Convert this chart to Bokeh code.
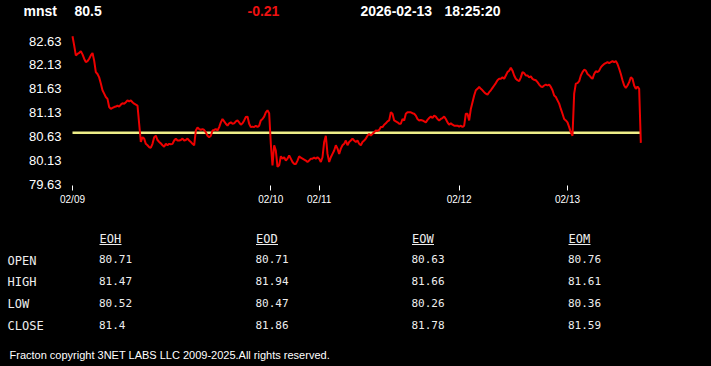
from bokeh.plotting import figure
from bokeh.layouts import column
from bokeh.models import Range1d, FixedTicker, NumeralTickFormatter, ColumnDataSource
from bokeh.core.properties import value
from bokeh.embed import file_html
from bokeh.resources import INLINE

# ---------------- data ----------------
symbol = "mnst"
last_price = "80.5"
change = "-0.21"
date_str = "2026-02-13"
time_str = "18:25:20"
prev_close = 80.71

prices_a = [
    82.73, 82.54, 82.33, 82.36, 82.38, 82.42, 82.35, 82.26, 82.19, 82.21,
    82.26, 82.33, 82.38, 82.22, 81.98, 81.94, 81.87, 81.74, 81.60, 81.53,
    81.46, 81.42, 81.25, 81.21, 81.23, 81.25, 81.26, 81.28, 81.26, 81.30,
    81.33, 81.32, 81.35, 81.39, 81.37, 81.39, 81.35, 81.32, 81.30, 81.28,
    80.90, 80.52, 80.62, 80.59, 80.48, 80.45, 80.41, 80.40, 80.48, 80.62,
    80.65, 80.56, 80.52, 80.49, 80.45, 80.42, 80.48, 80.45, 80.48, 80.47,
    80.48, 80.55, 80.59, 80.55, 80.55, 80.56, 80.59, 80.55, 80.56, 80.59,
    80.55, 80.52, 80.48, 80.45, 80.76, 80.82, 80.79, 80.77, 80.79, 80.77,
    80.72, 80.65, 80.62, 80.65, 80.76, 80.77, 80.79, 80.76, 80.83, 80.93,
    81.00, 80.95, 80.90, 80.86, 80.91, 80.93, 80.90, 80.91, 80.95, 80.97,
    80.93, 80.88, 80.91, 80.97, 81.04, 81.05, 80.90, 80.83, 80.84, 80.83,
]
prices_b = [
    80.86, 80.83, 80.86, 80.97, 81.00, 81.05, 81.14, 81.18, 81.12, 80.48,
    80.03, 80.45, 80.34, 80.00, 80.03, 80.22, 80.17, 80.20, 80.13, 80.17,
    80.24, 80.17, 80.10, 80.06, 80.06, 80.13, 80.22, 80.19, 80.17, 80.15,
    80.13, 80.10, 80.13, 80.17, 80.17, 80.19, 80.17, 80.20, 80.17, 80.10,
    80.20, 80.52, 80.65, 80.27, 80.10, 80.20, 80.27, 80.34, 80.45, 80.38,
    80.27, 80.38, 80.45, 80.48, 80.55, 80.45, 80.52, 80.55, 80.59, 80.55,
    80.52, 80.55, 80.48, 80.45, 80.52, 80.55, 80.59, 80.65, 80.69, 80.65,
    80.69, 80.72, 80.76, 80.75, 80.77, 80.83, 80.83, 80.88, 80.91, 80.95,
    80.97, 81.14, 81.11, 80.97, 80.95, 80.93, 80.90, 80.90, 81.00, 80.97,
    81.11, 81.14, 81.14, 81.14, 81.12, 81.11, 81.07, 81.00, 80.97, 80.98,
    80.97, 80.95, 80.93, 80.98, 81.02, 81.05, 81.02, 81.07, 81.05, 81.00,
    80.97, 81.00, 81.02, 81.05, 81.00, 80.93, 80.88, 80.91, 80.88, 80.86,
]
prices_c = [
    80.86, 80.86, 80.84, 80.86, 80.83, 80.86, 81.11, 81.11, 80.97, 81.21,
    81.35, 81.49, 81.60, 81.63, 81.67, 81.63, 81.60, 81.56, 81.53, 81.51,
    81.56, 81.60, 81.65, 81.70, 81.75, 81.81, 81.84, 81.84, 81.87, 81.84,
    81.91, 81.98, 82.01, 82.07, 82.01, 81.91, 81.84, 81.81, 81.79, 81.87,
    81.98, 81.96, 81.91, 81.91, 81.87, 81.89, 81.84, 81.82, 81.81, 81.77,
    81.72, 81.68, 81.67, 81.70, 81.72, 81.70, 81.72, 81.67, 81.60, 81.49,
    81.46, 81.39, 81.32, 81.21, 81.11, 81.00, 80.97, 80.93, 80.83, 80.72,
    80.65, 81.53, 81.74, 81.75, 81.79, 81.91, 81.98, 82.03, 82.01, 81.94,
    81.91, 81.87, 81.84, 81.94, 82.00, 81.98, 82.01, 82.08, 82.12, 82.15,
    82.17, 82.19, 82.17, 82.19, 82.21, 82.19, 82.21, 82.15, 82.05, 81.94,
    81.81, 81.70, 81.65, 81.70, 81.77, 81.87, 81.84, 81.70, 81.63, 81.68,
    81.63, 80.50,
]
prices = prices_a + prices_b + prices_c

day_labels = ["02/09", "02/10", "02/11", "02/12", "02/13"]
day_start_idx = [0, 119, 148, 232, 297]
y_ticks = [79.63, 80.13, 80.63, 81.13, 81.63, 82.13, 82.63]

table_cols = ["EOH", "EOD", "EOW", "EOM"]
table_rows = ["OPEN", "HIGH", "LOW", "CLOSE"]
eoh = ["80.71", "81.47", "80.52", "81.4"]
eod = ["80.71", "81.94", "80.47", "81.86"]
eow = ["80.63", "81.66", "80.26", "81.78"]
eom = ["80.76", "81.61", "80.36", "81.59"]
footer = "Fracton copyright 3NET LABS LLC 2009-2025.All rights reserved."

# ---------------- layout ----------------
W = 711
H_HEAD, H_CHART, H_TAB = 20, 192, 154
BLACK = {"background-color": "black"}
MONO = "DejaVu Sans Mono"


def text_panel(height, y_top):
    f = figure(width=W, height=height, output_backend="svg", toolbar_location=None,
               x_range=Range1d(0, W), y_range=Range1d(y_top + height, y_top),
               x_axis_type=None, y_axis_type=None,
               min_border_left=0, min_border_right=0,
               min_border_top=0, min_border_bottom=0)
    f.background_fill_color = None
    f.border_fill_color = None
    f.outline_line_color = None
    f.styles = BLACK
    return f


# header panel (page y 0..20)
head = text_panel(H_HEAD, 0)
head_src = ColumnDataSource(dict(
    x=[23, 74, 247, 360, 444],
    y=[10, 10, 10, 10, 10],
    t=[symbol, last_price, change, date_str, time_str],
    c=["#ffffff", "#ffffff", "#ee1111", "#ffffff", "#ffffff"],
))
head.text(x="x", y="y", text="t", text_color="c", source=head_src,
          text_font=value("Liberation Sans"), text_font_style="bold",
          text_font_size="14px", text_baseline="middle", text_align="left")

# chart panel (page y 20..212)
chart = figure(width=W, height=H_CHART, output_backend="svg", toolbar_location=None,
               x_range=Range1d(-1.2, 376.8), y_range=Range1d(79.609, 82.892),
               min_border_left=70, min_border_right=11,
               min_border_top=8, min_border_bottom=27)
chart.background_fill_color = None
chart.border_fill_color = None
chart.outline_line_color = None
chart.styles = BLACK
chart.grid.visible = False

xs = list(range(len(prices)))
chart.line([xs[0], xs[-1]], [prev_close, prev_close], line_color="#eeee88", line_width=2.5)
chart.line(xs, prices, line_color="#ee0000", line_width=2)

xa = chart.xaxis[0]
xa.ticker = FixedTicker(ticks=day_start_idx)
xa.major_label_overrides = {i: l for i, l in zip(day_start_idx, day_labels)}
xa.axis_line_color = None
xa.major_tick_line_color = "white"
xa.major_tick_out = 5
xa.major_tick_in = 0
xa.minor_tick_line_color = None
xa.major_label_text_color = "white"
xa.major_label_text_font = "Liberation Sans"
xa.major_label_text_font_size = "10px"
xa.major_label_standoff = 3

ya = chart.yaxis[0]
ya.ticker = FixedTicker(ticks=y_ticks)
ya.formatter = NumeralTickFormatter(format="0.00")
ya.axis_line_color = None
ya.major_tick_line_color = None
ya.major_tick_out = 0
ya.major_tick_in = 0
ya.minor_tick_line_color = None
ya.major_label_text_color = "white"
ya.major_label_text_font = "Liberation Sans"
ya.major_label_text_font_size = "13px"
ya.major_label_standoff = 9

# table panel (page y 212..366)
tab = text_panel(H_TAB, H_HEAD + H_CHART)
col_x = [99, 255.5, 411.5, 568]
row_y = [258.5, 280, 302, 324]
cols = [eoh, eod, eow, eom]

hdr_src = ColumnDataSource(dict(x=col_x, y=[238.5] * 4, t=table_cols))
tab.text(x="x", y="y", text="t", source=hdr_src, text_color="#eeeeee",
         text_font=value(MONO), text_font_size="12px",
         text_baseline="middle", text_align="left")
ul_src = ColumnDataSource(dict(x0=col_x, x1=[x + 22 for x in col_x],
                               y=[244] * 4))
tab.segment(x0="x0", y0="y", x1="x1", y1="y", source=ul_src,
            line_color="#eeeeee", line_width=1)

vx, vy, vt = [], [], []
for cx, vals in zip(col_x, cols):
    for ry, v in zip(row_y, vals):
        vx.append(cx - 0.5)
        vy.append(ry)
        vt.append(v)
val_src = ColumnDataSource(dict(x=vx, y=vy, t=vt))
tab.text(x="x", y="y", text="t", source=val_src, text_color="#eeeeee",
         text_font=value(MONO), text_font_size="11px",
         text_baseline="middle", text_align="left")

row_src = ColumnDataSource(dict(x=[7] * 4, y=[r + 1.5 for r in row_y], t=table_rows))
tab.text(x="x", y="y", text="t", source=row_src, text_color="#eeeeee",
         text_font=value(MONO), text_font_size="12px",
         text_baseline="middle", text_align="left")

foot_src = ColumnDataSource(dict(x=[9], y=[354], t=[footer]))
tab.text(x="x", y="y", text="t", source=foot_src, text_color="#ffffff",
         text_font=value("Liberation Sans"), text_font_size="11px",
         text_baseline="middle", text_align="left")

p = column(column(head), column(chart), column(tab), spacing=0, styles=BLACK)

open("out.html", "w").write(file_html(p, INLINE))
